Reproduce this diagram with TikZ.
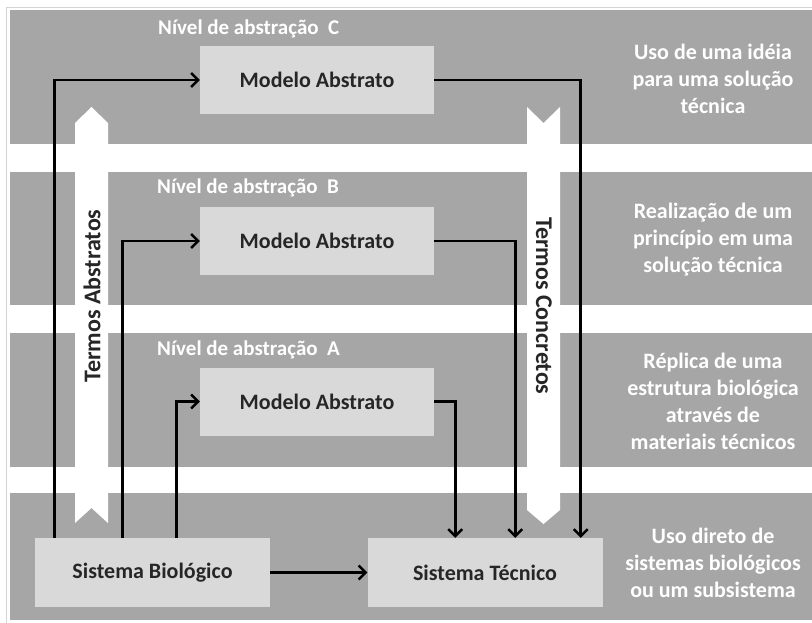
\documentclass[tikz,border=0pt]{standalone}
\usepackage{fontspec}
\setmainfont{Carlito}
\usetikzlibrary{arrows.meta}
\definecolor{band}{HTML}{A6A6A6}
\definecolor{boxfill}{HTML}{D9D9D9}
\definecolor{ink}{HTML}{262626}
\definecolor{frame}{HTML}{D4D4D4}
\tikzset{
  bandrect/.style={fill=band, draw=none},
  wharrow/.style={fill=white, draw=none},
  modelbox/.style={fill=boxfill, draw=none, minimum width=234pt, minimum height=68pt, inner sep=0pt, font=\bfseries\fontsize{22}{26}\selectfont, text=ink},
  sysbox/.style={fill=boxfill, draw=none, minimum width=235pt, minimum height=69pt, inner sep=0pt, font=\bfseries\fontsize{22}{26}\selectfont, text=ink},
  leveltitle/.style={anchor=west, inner sep=0pt, text=white, font=\bfseries\fontsize{21}{24}\selectfont},
  sidetext/.style={align=center, inner sep=0pt, text=white, font=\bfseries\fontsize{22}{27}\selectfont},
  arrowlabel/.style={inner sep=0pt, text=ink, font=\bfseries\fontsize{24}{26}\selectfont},
  conn/.style={line width=2.7pt, draw=black, -{Straight Barb[length=7pt,width=14pt,line width=2.4pt]}},
}
\begin{document}
\begin{tikzpicture}[x=1pt,y=-1pt]
\useasboundingbox (0,0) rectangle (812,622);
\fill[white] (0,0) rectangle (812,622);
\draw[frame, line width=1pt] (6,7) rectangle (813,623);
% bands
\fill[bandrect] (10,10) rectangle (812,144);
\fill[bandrect] (10,172) rectangle (812,305);
\fill[bandrect] (10,333) rectangle (812,467);
\fill[bandrect] (10,493) rectangle (812,620);
% white arrows
\fill[wharrow] (75,123) -- (91.5,107) -- (108,123) -- (108,523) -- (91.5,508) -- (75,523) -- cycle;
\fill[wharrow] (527,107) -- (543.5,123) -- (560,107) -- (560,510) -- (543.5,524) -- (527,510) -- cycle;
\node[arrowlabel, rotate=90] (abs) at (92,296) {Termos Abstratos};
\node[arrowlabel, rotate=-90] (con) at (544,306) {Termos Concretos};
% level titles
\node[leveltitle] (tc) at (158,29) {Nível de abstração\ \ C};
\node[leveltitle] (tb) at (157,188) {Nível de abstração\ \ B};
\node[leveltitle] (ta) at (157,350) {Nível de abstração\ \ A};
% side texts
\node[sidetext] (sc) at (713,79) {Uso de uma idéia\\para uma solução\\técnica};
\node[sidetext] (sb) at (713,240) {Realização de um\\princípio em uma\\solução técnica};
\node[sidetext] (sa) at (713,401) {Réplica de uma\\estrutura biológica\\através de\\materiais técnicos};
\node[sidetext] (sd) at (713,563) {Uso direto de\\sistemas biológicos\\ou um subsistema};
% boxes
\node[modelbox] (mc) at (317,80) {Modelo Abstrato};
\node[modelbox] (mb) at (317,241) {Modelo Abstrato};
\node[modelbox] (ma) at (317,401.5) {Modelo Abstrato};
\node[sysbox] (bio) at (152.5,572.5) {Sistema Biológico};
\node[sysbox] (tec) at (485,572.5) {Sistema Técnico};
% connectors
\draw[conn] ([xshift=20pt]bio.north west) |- (mc.west);
\draw[conn] ([xshift=88pt]bio.north west) |- (mb.west);
\draw[conn] ([xshift=142pt]bio.north west) |- (ma.west);
\draw[conn] (mc.east) -| ([xshift=-22pt]tec.north east);
\draw[conn] (mb.east) -| ([xshift=148pt]tec.north west);
\draw[conn] (ma.east) -| ([xshift=88pt]tec.north west);
\draw[conn] (bio.east) -- (tec.west);
\end{tikzpicture}
\end{document}
